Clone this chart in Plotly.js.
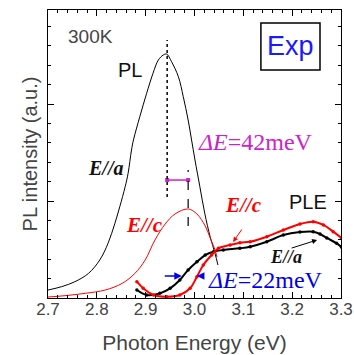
<!DOCTYPE html>
<html>
<head>
<meta charset="utf-8">
<script src="https://cdn.plot.ly/plotly-3.0.1.min.js"></script>
<style>html,body{margin:0;padding:0;background:#fff;}#chart{width:354px;height:355px;}</style>
</head>
<body>
<div id="chart"></div>
<script>
// PL spectrum, E//a (black)
const plA_x = [2.700, 2.728, 2.755, 2.783, 2.806, 2.823, 2.837, 2.847, 2.858, 2.864, 2.871, 2.875, 2.888, 2.902, 2.915, 2.926, 2.936, 2.943, 2.953, 2.967, 2.977, 2.987, 2.994, 3.001, 3.011, 3.021, 3.032, 3.042, 3.048];
const plA_y = [0.082, 0.117, 0.168, 0.254, 0.392, 0.564, 0.770, 0.941, 1.147, 1.285, 1.526, 1.629, 1.869, 2.110, 2.316, 2.454, 2.505, 2.515, 2.436, 2.281, 2.075, 1.835, 1.629, 1.423, 1.147, 0.873, 0.632, 0.460, 0.340];
// PL spectrum, E//c (red)
const plC_x = [2.700, 2.735, 2.776, 2.817, 2.852, 2.878, 2.899, 2.919, 2.940, 2.960, 2.987, 3.005, 3.022, 3.032, 3.042, 3.046];
const plC_y = [0.010, 0.024, 0.048, 0.082, 0.151, 0.254, 0.392, 0.598, 0.763, 0.866, 0.918, 0.866, 0.742, 0.619, 0.495, 0.423];
// PLE spectrum, E//a (black)
const pleA_x = [2.882, 2.902, 2.929, 2.950, 2.970, 2.987, 3.005, 3.022, 3.039, 3.059, 3.093, 3.114, 3.148, 3.182, 3.216, 3.243, 3.257, 3.271, 3.291, 3.301];
const pleA_y = [0.082, 0.031, 0.048, 0.100, 0.186, 0.289, 0.374, 0.443, 0.477, 0.495, 0.512, 0.529, 0.580, 0.649, 0.680, 0.684, 0.660, 0.619, 0.564, 0.526];
// PLE spectrum, E//c (red)
const pleC_x = [2.882, 2.895, 2.916, 2.943, 2.970, 2.991, 3.005, 3.018, 3.035, 3.049, 3.073, 3.093, 3.114, 3.148, 3.182, 3.216, 3.243, 3.264, 3.284, 3.301];
const pleC_y = [0.168, 0.100, 0.031, 0.013, 0.031, 0.100, 0.220, 0.340, 0.443, 0.512, 0.546, 0.570, 0.580, 0.632, 0.701, 0.763, 0.787, 0.753, 0.684, 0.619];
// Peak positions and shift marker
const peakA = 2.944, peakC = 2.987;
const shiftY = [1.216, 1.216];
const shiftX = [peakA, peakC];
const xTickVals = [2.7, 2.8, 2.9, 3.0, 3.1, 3.2, 3.3];

const traces = [
  {x: plA_x, y: plA_y, mode: 'lines', line: {color: '#000', width: 1, shape: 'spline'}, hoverinfo: 'skip'},
  {x: plC_x, y: plC_y, mode: 'lines', line: {color: '#ff0000', width: 1, shape: 'spline'}, hoverinfo: 'skip'},
  {x: pleA_x, y: pleA_y, mode: 'lines+markers', line: {color: '#000', width: 2, shape: 'spline'}, marker: {size: 3.5, color: '#000'}, hoverinfo: 'skip'},
  {x: pleC_x, y: pleC_y, mode: 'lines+markers', line: {color: '#ff0000', width: 2, shape: 'spline'}, marker: {size: 3.5, color: '#ff0000'}, hoverinfo: 'skip'},
  {x: shiftX, y: shiftY, mode: 'lines+markers', line: {color: '#cc22cc', width: 1.5}, marker: {size: 4, color: '#cc22cc', symbol: 'square'}, hoverinfo: 'skip'}
];

const sans = 'Arial, "Liberation Sans", sans-serif';
const serif = '"Times New Roman", "Liberation Serif", serif';

const layout = {
  width: 354, height: 355,
  margin: {l: 48, r: 13, t: 10, b: 57},
  paper_bgcolor: '#fff', plot_bgcolor: '#fff',
  showlegend: false,
  font: {family: sans, color: '#444'},
  xaxis: {
    range: [2.7, 3.3], tickvals: xTickVals, ticktext: xTickVals.map(v => v.toFixed(1)),
    ticks: 'inside', ticklen: 6, tickwidth: 1, tickcolor: '#000',
    showline: true, linecolor: '#000', linewidth: 1, mirror: 'ticks',
    showgrid: false, zeroline: false,
    ticklabelstandoff: -4,
    tickfont: {family: sans, size: 17, color: '#444'},
    minor: {dtick: 0.02, tick0: 2.7, ticks: 'inside', ticklen: 3, tickcolor: '#000', showgrid: false},
    title: {text: 'Photon Energy (eV)', font: {family: sans, size: 21, color: '#444'}, standoff: 16}
  },
  yaxis: {
    range: [0, 2.969], dtick: 1, tick0: 0,
    ticks: 'inside', ticklen: 6, tickwidth: 1, tickcolor: '#000',
    showline: true, linecolor: '#000', linewidth: 1, mirror: 'ticks',
    showgrid: false, zeroline: false, showticklabels: false,
    minor: {dtick: 0.2, tick0: 0, ticks: 'inside', ticklen: 3, tickcolor: '#000', showgrid: false},
    title: {text: 'PL intensity (a.u.)', font: {family: sans, size: 20, color: '#444'}, standoff: 4}
  },
  shapes: [
    {type: 'line', xref: 'x', yref: 'y', x0: peakA, x1: peakA, y0: 1.04, y1: 2.66, line: {color: '#000', width: 1.5, dash: 'dot'}},
    {type: 'line', xref: 'x', yref: 'y', x0: peakC, x1: peakC, y0: 0.742, y1: 1.32, line: {color: '#000', width: 1.2, dash: 'dash'}},
    {type: 'rect', xref: 'x', yref: 'y', x0: 3.136, x1: 3.257, y0: 2.351, y1: 2.835, line: {color: '#000', width: 1.5}}
  ],
  annotations: [
    {x: 2.786, y: 2.70, xref: 'x', yref: 'y', text: '300K', showarrow: false, font: {family: sans, size: 19, color: '#444'}},
    {x: 3.196, y: 2.593, xref: 'x', yref: 'y', text: 'Exp', showarrow: false, font: {family: sans, size: 27, color: '#1a1aff'}},
    {x: 2.868, y: 2.35, xref: 'x', yref: 'y', text: 'PL', showarrow: false, font: {family: sans, size: 20, color: '#111'}},
    {x: 3.124, y: 1.608, xref: 'x', yref: 'y', text: '<i>ΔE</i>=42meV', showarrow: false, font: {family: serif, size: 24, color: '#cc22cc'}},
    {x: 2.817, y: 1.34, xref: 'x', yref: 'y', text: '<b><i>E//a</i></b>', showarrow: false, font: {family: serif, size: 20, color: '#111'}},
    {x: 2.897, y: 0.753, xref: 'x', yref: 'y', text: '<b><i>E//c</i></b>', showarrow: false, font: {family: serif, size: 21, color: '#ff0000'}},
    {x: 3.101, y: 0.959, xref: 'x', yref: 'y', text: '<b><i>E//c</i></b>', showarrow: false, font: {family: serif, size: 21, color: '#ff0000'}},
    {x: 3.232, y: 0.99, xref: 'x', yref: 'y', text: 'PLE', showarrow: false, font: {family: sans, size: 20, color: '#111'}},
    {x: 3.187, y: 0.42, xref: 'x', yref: 'y', text: '<b><i>E//a</i></b>', showarrow: false, font: {family: serif, size: 18, color: '#111'}},
    {x: 3.146, y: 0.185, xref: 'x', yref: 'y', text: '<i>ΔE</i>=22meV', showarrow: false, font: {family: serif, size: 24, color: '#0000ee'}},
    // arrows
    {x: 3.079, y: 0.577, ax: 3.099, ay: 0.722, xref: 'x', yref: 'y', axref: 'x', ayref: 'y', text: '', showarrow: true, arrowhead: 2, arrowsize: 1, arrowwidth: 1, arrowcolor: '#ff0000'},
    {x: 3.251, y: 0.598, ax: 3.196, ay: 0.51, xref: 'x', yref: 'y', axref: 'x', ayref: 'y', text: '', showarrow: true, arrowhead: 2, arrowsize: 1, arrowwidth: 1, arrowcolor: '#000'},
    {x: 2.974, y: 0.227, ax: 2.936, ay: 0.227, xref: 'x', yref: 'y', axref: 'x', ayref: 'y', text: '', showarrow: true, arrowhead: 2, arrowsize: 1, arrowwidth: 1.5, arrowcolor: '#0000ee'},
    {x: 3.005, y: 0.227, ax: 3.022, ay: 0.227, xref: 'x', yref: 'y', axref: 'x', ayref: 'y', text: '', showarrow: true, arrowhead: 2, arrowsize: 1, arrowwidth: 1.5, arrowcolor: '#0000ee'}
  ]
};

Plotly.newPlot('chart', traces, layout, {staticPlot: true, displayModeBar: false});
</script>
</body>
</html>
